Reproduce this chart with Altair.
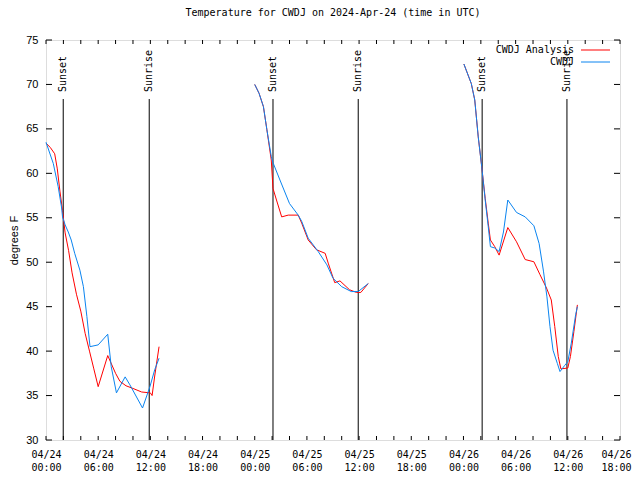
import altair as alt
import pandas as pd

# ---- data (hours since 2024-04-24 00:00 UTC, degrees F) ----
red1_t = [0.0, 0.5, 1.0, 1.3, 1.6, 1.9, 2.2, 2.6, 3.0, 3.5, 4.0, 4.5, 5.0, 5.5, 6.0, 7.1, 8.0, 8.5, 9.2, 10.0, 11.0, 12.0, 12.2, 12.5, 13.0]
red1_v = [63.4, 62.9, 62.2, 60.5, 58.0, 55.8, 53.3, 51.3, 48.8, 46.4, 44.5, 42.0, 40.0, 38.0, 36.0, 39.5, 37.5, 36.6, 36.1, 35.8, 35.4, 35.3, 35.0, 37.2, 40.5]
blue1_t = [0.0, 0.84, 1.4, 1.8, 1.9, 2.2, 2.56, 2.9, 3.3, 3.9, 4.3, 4.7, 5.06, 6.0, 7.1, 7.5, 8.1, 9.1, 9.65, 11.1, 11.95, 12.5, 13.0]
blue1_v = [63.5, 61.1, 58.5, 56.1, 55.1, 54.2, 53.4, 52.5, 51.0, 49.1, 47.25, 43.9, 40.5, 40.7, 41.9, 38.25, 35.3, 37.1, 36.2, 33.6, 36.0, 37.9, 39.2]

red2_t = [24.0, 24.5, 25.0, 25.4, 25.9, 26.1, 26.5, 27.1, 27.85, 29.0, 29.4, 30.15, 31.1, 32.1, 32.45, 33.2, 33.8, 34.9, 35.7, 36.2, 37.05]
red2_v = [70.0, 69.0, 67.5, 64.9, 61.5, 58.3, 57.0, 55.1, 55.3, 55.3, 54.4, 52.5, 51.4, 51.0, 49.9, 47.7, 47.9, 46.9, 46.6, 46.6, 47.6]
blue2_t = [24.0, 24.5, 25.0, 25.4, 25.9, 26.1, 26.9, 28.0, 29.0, 29.4, 30.15, 31.3, 32.3, 33.0, 34.0, 35.1, 35.9, 37.05]
blue2_v = [70.0, 69.0, 67.5, 64.9, 61.9, 61.2, 59.25, 56.6, 55.3, 54.6, 52.7, 51.2, 49.7, 48.2, 47.25, 46.7, 46.7, 47.6]

red3_t = [48.05, 48.9, 49.3, 49.7, 50.1, 50.5, 50.85, 51.1, 51.6, 52.1, 53.1, 54.1, 55.1, 56.1, 56.8, 57.55, 58.1, 58.5, 58.9, 59.2, 60.0, 60.3, 60.7, 61.1]
red3_v = [72.3, 70.1, 68.25, 64.1, 60.75, 57.2, 54.4, 52.5, 51.75, 50.8, 53.9, 52.3, 50.3, 50.05, 48.6, 47.1, 45.75, 42.75, 39.4, 38.0, 38.1, 39.4, 42.2, 45.2]
blue3_t = [48.05, 48.9, 49.3, 49.7, 50.1, 50.5, 50.85, 51.1, 51.6, 52.1, 52.6, 53.1, 54.1, 55.1, 56.1, 56.7, 57.2, 57.6, 57.95, 58.3, 58.8, 59.1, 59.65, 60.0, 60.4, 60.9, 61.1]
blue3_v = [72.3, 70.1, 68.25, 64.1, 60.75, 57.0, 54.0, 51.75, 51.6, 51.2, 53.4, 57.0, 55.6, 55.1, 54.1, 52.1, 49.0, 46.1, 42.75, 40.1, 38.6, 37.7, 38.4, 38.8, 40.9, 44.1, 45.0]

event_t = [1.98, 11.87, 26.1, 35.9, 50.15, 59.9]
event_name = ["Sunset", "Sunrise", "Sunset", "Sunrise", "Sunset", "Sunrise"]

series_names = ["CWDJ Analysis", "CWDJ"]
series_colors = ["#ff0000", "#0a84f0"]

x_ticks = list(range(0, 67, 2))
x_labels = list(range(0, 67, 6))
y_ticks = list(range(30, 76, 5))

MONO = "DejaVu Sans Mono"
SANS = "Liberation Sans"

rows = []
for name, segs in [
    (series_names[0], [(red1_t, red1_v), (red2_t, red2_v), (red3_t, red3_v)]),
    (series_names[1], [(blue1_t, blue1_v), (blue2_t, blue2_v), (blue3_t, blue3_v)]),
]:
    for i, (ts, vs) in enumerate(segs):
        for t, v in zip(ts, vs):
            rows.append({"t": t, "v": v, "seg": i, "series": name})
df = pd.DataFrame(rows)

ev = pd.DataFrame({"t": event_t, "name": event_name})
xt = pd.DataFrame({"t": x_ticks})
yt = pd.DataFrame({"v": y_ticks})

xscale = alt.Scale(domain=[0, 66], nice=False, zero=False)
yscale = alt.Scale(domain=[30, 75], nice=False, zero=False)

xaxis = alt.Axis(
    values=x_labels, tickSize=0, domain=False, grid=False, title=None,
    labelExpr="['04/' + (24 + floor(datum.value/24)), ((datum.value % 24) < 10 ? '0' : '') + (datum.value % 24) + ':00']",
    labelFont=MONO, labelFontSize=10, labelColor="black", labelPadding=9, labelLineHeight=13,
    labelOverlap=False, labelFlush=False,
    labelAlign={"expr": "datum.value == 66 ? 'right' : 'center'"},
    labelOffset={"expr": "datum.value == 66 ? 11 : 0"},
)
yaxis = alt.Axis(
    values=y_ticks, tickSize=0, domain=False, grid=False, title="degrees F",
    labelFont=SANS, labelFontSize=11, labelColor="black", labelPadding=8,
    titleFont=SANS, titleFontSize=11, titleFontWeight="normal", titleColor="black",
    titleX=-32, titleY=200, titleAngle=270, titleAlign="center", titleBaseline="middle",
)

lines = alt.Chart(df).mark_line(strokeWidth=1).encode(
    x=alt.X("t:Q", scale=xscale, axis=xaxis),
    y=alt.Y("v:Q", scale=yscale, axis=yaxis),
    color=alt.Color("series:N", scale=alt.Scale(domain=series_names, range=series_colors), legend=None),
    detail="seg:N",
    order=alt.Order("t:Q"),
)

ev_rules = alt.Chart(ev).mark_rule(color="black", strokeWidth=1).encode(
    x=alt.X("t:Q", scale=xscale), y=alt.value(59), y2=alt.value(400)
)
ev_text = alt.Chart(ev).mark_text(
    angle=270, align="left", baseline="middle", font=MONO, fontSize=10, color="black"
).encode(x=alt.X("t:Q", scale=xscale), y=alt.value(52), text="name:N")

tick_b = alt.Chart(xt).mark_rule(color="black").encode(
    x=alt.X("t:Q", scale=xscale), y=alt.value(400), y2=alt.value(396))
tick_t = alt.Chart(xt).mark_rule(color="black").encode(
    x=alt.X("t:Q", scale=xscale), y=alt.value(0), y2=alt.value(4))
tick_l = alt.Chart(yt).mark_rule(color="black").encode(
    y=alt.Y("v:Q", scale=yscale), x=alt.value(0), x2=alt.value(6))
tick_r = alt.Chart(yt).mark_rule(color="black").encode(
    y=alt.Y("v:Q", scale=yscale), x=alt.value(574), x2=alt.value(568))

leg_layers = []
for i, (nm, col) in enumerate(zip(series_names, series_colors)):
    ld = pd.DataFrame({"name": [nm]})
    leg_layers.append(alt.Chart(ld).mark_text(
        align="right", baseline="middle", font=MONO, fontSize=10, color="black"
    ).encode(x=alt.value(528), y=alt.value(10 + 12 * i), text="name:N"))
    leg_layers.append(alt.Chart(ld).mark_rule(color=col, strokeWidth=1).encode(
        x=alt.value(535), x2=alt.value(564), y=alt.value(10 + 12 * i)))

chart = alt.layer(
    ev_rules, ev_text, lines, tick_b, tick_t, tick_l, tick_r, *leg_layers
).properties(
    width=574, height=400,
    title=alt.Title("Temperature for CWDJ on 2024-Apr-24 (time in UTC)",
                    font=MONO, fontSize=10, fontWeight="normal", color="black", offset=16),
    autosize=alt.AutoSizeParams(type="none"),
    padding={"left": 38, "top": 32, "right": 12, "bottom": 32},
).configure_view(stroke="black", strokeWidth=1).configure(background="white")

chart.save("out.html", embed_options={"renderer": "svg", "actions": False})
